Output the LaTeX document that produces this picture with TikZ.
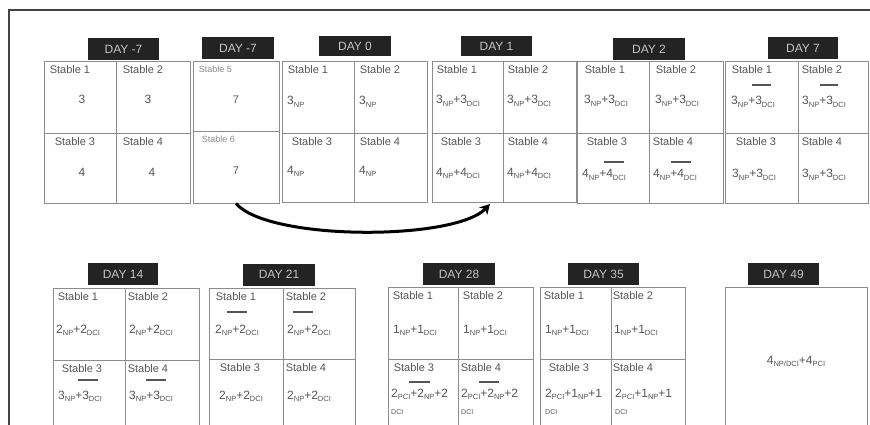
\documentclass[tikz,border=0pt]{standalone}
\usepackage{fontspec}
\setmainfont{Liberation Sans}
\usetikzlibrary{fit,arrows.meta}
\definecolor{gridc}{HTML}{8C8C8C}
\definecolor{txtc}{HTML}{555555}
\definecolor{lighttxt}{HTML}{8A8A8A}
\definecolor{labbg}{HTML}{232323}
\definecolor{labtxt}{HTML}{C4C4C4}
\definecolor{framec}{HTML}{444444}
\newcommand{\sub}[1]{\raisebox{-0.35ex}{\fontsize{7.5}{8}\selectfont #1}}
\newcommand{\mkcell}[5]{%
  \coordinate (#1-p) at (#2,#3);
  \coordinate (#1-q) at (#4,#5);
  \node[cellsty, fit=(#1-p)(#1-q)] (#1) {};}
\newcommand{\lab}[3]{\node[stabsty] (#1-l) at ([xshift=#2pt,yshift=-5pt]#1.north west) {#3};}
\newcommand{\slab}[3]{\node[smallstab] (#1-l) at ([xshift=#2pt,yshift=-5pt]#1.north west) {#3};}
\tikzset{
  cellsty/.style={draw=gridc, line width=0.9pt, inner sep=0pt},
  stabsty/.style={text=txtc, font=\fontsize{11}{13}\selectfont, inner sep=0pt, anchor=north west},
  smallstab/.style={stabsty, text=lighttxt, font=\fontsize{9}{11}\selectfont},
  valsty/.style={text=txtc, font=\fontsize{12}{14}\selectfont, inner sep=0pt, anchor=base west},
  cvalsty/.style={valsty, anchor=base},
  dcisty/.style={text=txtc, font=\fontsize{7}{8}\selectfont, inner sep=0pt, anchor=base west},
  daylab/.style={fill=labbg, text=labtxt, font=\fontsize{12}{14}\selectfont, inner sep=0pt, minimum height=22pt},
  barsty/.style={draw=txtc, line width=1.6pt},
  framesty/.style={draw=framec, line width=1.2pt},
  arrsty/.style={draw=black, line width=3pt, -{Stealth[length=10pt,width=11pt]}}
}
\begin{document}
\begin{tikzpicture}[x=1pt,y=-1pt]
\useasboundingbox (0,0) rectangle (870,425);
% outer frame
\coordinate (fa) at (9,430);
\coordinate (fb) at (9,10);
\coordinate (fc) at (875,10);
\draw[framesty] (fa) -- (fb) -- (fc);

% ---------- Row 1 ----------
% DAY -7 (stables 1-4)
\node[daylab, minimum width=71pt] (lm7a) at (123.5,49.5) {DAY -7};
\mkcell{m7a1}{44}{61}{116}{133}
\mkcell{m7a2}{116}{61}{190}{133}
\mkcell{m7a3}{44}{133}{116}{203}
\mkcell{m7a4}{116}{133}{190}{203}
\lab{m7a1}{6}{Stable 1}\lab{m7a2}{7}{Stable 2}\lab{m7a3}{11}{Stable 3}\lab{m7a4}{7}{Stable 4}
\node[cvalsty] (m7a1-v) at (82,104) {3};
\node[cvalsty] (m7a2-v) at (148,104) {3};
\node[cvalsty] (m7a3-v) at (82,176) {4};
\node[cvalsty] (m7a4-v) at (152,176) {4};

% DAY -7 (stables 5-6)
\node[daylab, minimum width=72pt] (lm7b) at (238,48.5) {DAY -7};
\mkcell{m7b5}{193}{61}{279}{131}
\mkcell{m7b6}{193}{131}{279}{203}
\slab{m7b5}{6}{Stable 5}\slab{m7b6}{9}{Stable 6}
\node[cvalsty, font=\fontsize{11}{13}\selectfont] (m7b5-v) at (236,104) {7};
\node[cvalsty, font=\fontsize{11}{13}\selectfont] (m7b6-v) at (236,175) {7};

% DAY 0
\node[daylab, minimum width=72pt, minimum height=20pt] (ld0) at (355,46) {DAY 0};
\mkcell{d0a}{282}{61}{354}{133}
\mkcell{d0b}{354}{61}{427}{133}
\mkcell{d0c}{282}{133}{354}{202}
\mkcell{d0d}{354}{133}{427}{202}
\lab{d0a}{6}{Stable 1}\lab{d0b}{6}{Stable 2}\lab{d0c}{10}{Stable 3}\lab{d0d}{6}{Stable 4}
\node[valsty] (d0a-v) at (287,105) {3\sub{NP}};
\node[valsty] (d0b-v) at (359,105) {3\sub{NP}};
\node[valsty] (d0c-v) at (287,174) {4\sub{NP}};
\node[valsty] (d0d-v) at (359,174) {4\sub{NP}};

% DAY 1
\node[daylab, minimum width=71pt, minimum height=20pt] (ld1) at (496.5,46) {DAY 1};
\mkcell{d1a}{432}{61}{503}{133}
\mkcell{d1b}{503}{61}{576}{133}
\mkcell{d1c}{432}{133}{503}{202}
\mkcell{d1d}{503}{133}{576}{202}
\lab{d1a}{5}{Stable 1}\lab{d1b}{5}{Stable 2}\lab{d1c}{9}{Stable 3}\lab{d1d}{5}{Stable 4}
\node[valsty] (d1a-v) at (436,104) {3\sub{NP}+3\sub{DCI}};
\node[valsty] (d1b-v) at (507,104) {3\sub{NP}+3\sub{DCI}};
\node[valsty] (d1c-v) at (436,176) {4\sub{NP}+4\sub{DCI}};
\node[valsty] (d1d-v) at (507,176) {4\sub{NP}+4\sub{DCI}};

% DAY 2
\node[daylab, minimum width=72pt] (ld2) at (649,49) {DAY 2};
\mkcell{d2a}{577}{61}{649}{133}
\mkcell{d2b}{649}{61}{723}{133}
\mkcell{d2c}{577}{133}{649}{203}
\mkcell{d2d}{649}{133}{723}{203}
\lab{d2a}{8}{Stable 1}\lab{d2b}{7}{Stable 2}\lab{d2c}{10}{Stable 3}\lab{d2d}{4}{Stable 4}
\node[valsty] (d2a-v) at (584,104) {3\sub{NP}+3\sub{DCI}};
\node[valsty] (d2b-v) at (655,104) {3\sub{NP}+3\sub{DCI}};
\node[valsty] (d2c-v) at (582,178) {4\sub{NP}+4\sub{DCI}};
\node[valsty] (d2d-v) at (653,178) {4\sub{NP}+4\sub{DCI}};
\draw[barsty] (604,162) -- (624,162);
\draw[barsty] (671,162) -- (691,162);

% DAY 7
\node[daylab, minimum width=70pt] (ld7) at (803,48.5) {DAY 7};
\mkcell{d7a}{725}{61}{798}{133}
\mkcell{d7b}{798}{61}{868}{133}
\mkcell{d7c}{725}{133}{798}{203}
\mkcell{d7d}{798}{133}{868}{203}
\lab{d7a}{7}{Stable 1}\lab{d7b}{4}{Stable 2}\lab{d7c}{11}{Stable 3}\lab{d7d}{4}{Stable 4}
\node[valsty] (d7a-v) at (731,105) {3\sub{NP}+3\sub{DCI}};
\node[valsty] (d7b-v) at (802,105) {3\sub{NP}+3\sub{DCI}};
\node[valsty] (d7c-v) at (732,178) {3\sub{NP}+3\sub{DCI}};
\node[valsty] (d7d-v) at (802,178) {3\sub{NP}+3\sub{DCI}};
\draw[barsty] (752,85) -- (771,85);
\draw[barsty] (820,85) -- (838,85);

% arrow from stable 6 to day 1
\coordinate (arrend) at (490,204);
\draw[arrsty] (m7b6.south) .. controls (268,241) and (455,241) .. (arrend);

% ---------- Row 2 ----------
% DAY 14
\node[daylab, minimum width=70pt] (ld14) at (123,274) {DAY 14};
\mkcell{d14a}{53}{288}{125}{360}
\mkcell{d14b}{125}{288}{199}{360}
\mkcell{d14c}{53}{360}{125}{432}
\mkcell{d14d}{125}{360}{199}{432}
\lab{d14a}{5}{Stable 1}\lab{d14b}{3}{Stable 2}\lab{d14c}{9}{Stable 3}\lab{d14d}{3}{Stable 4}
\node[valsty] (d14a-v) at (56,333) {2\sub{NP}+2\sub{DCI}};
\node[valsty] (d14b-v) at (129,333) {2\sub{NP}+2\sub{DCI}};
\node[valsty] (d14c-v) at (58,399) {3\sub{NP}+3\sub{DCI}};
\node[valsty] (d14d-v) at (129,399) {3\sub{NP}+3\sub{DCI}};
\draw[barsty] (78,380) -- (98,380);
\draw[barsty] (146,380) -- (166,380);

% DAY 21
\node[daylab, minimum width=72pt] (ld21) at (279,274.5) {DAY 21};
\mkcell{d21a}{209}{288}{283}{359}
\mkcell{d21b}{283}{288}{355}{359}
\mkcell{d21c}{209}{359}{283}{432}
\mkcell{d21d}{283}{359}{355}{432}
\lab{d21a}{7}{Stable 1}\lab{d21b}{3}{Stable 2}\lab{d21c}{11}{Stable 3}\lab{d21d}{3}{Stable 4}
\node[valsty] (d21a-v) at (215,333) {2\sub{NP}+2\sub{DCI}};
\node[valsty] (d21b-v) at (287,333) {2\sub{NP}+2\sub{DCI}};
\node[valsty] (d21c-v) at (219,399) {2\sub{NP}+2\sub{DCI}};
\node[valsty] (d21d-v) at (287,399) {2\sub{NP}+2\sub{DCI}};
\draw[barsty] (227,312) -- (247,312);
\draw[barsty] (293,312) -- (313,312);

% DAY 28
\node[daylab, minimum width=72pt] (ld28) at (459,274) {DAY 28};
\mkcell{d28a}{388}{287}{458}{359}
\mkcell{d28b}{458}{287}{533}{359}
\mkcell{d28c}{388}{359}{458}{432}
\mkcell{d28d}{458}{359}{533}{432}
\lab{d28a}{5}{Stable 1}\lab{d28b}{5}{Stable 2}\lab{d28c}{6}{Stable 3}\lab{d28d}{3}{Stable 4}
\node[valsty] (d28a-v) at (393,333) {1\sub{NP}+1\sub{DCI}};
\node[valsty] (d28b-v) at (463,333) {1\sub{NP}+1\sub{DCI}};
\node[valsty] (d28c-v) at (391,397) {2\sub{PCI}+2\sub{NP}+2};
\node[valsty] (d28d-v) at (461,397) {2\sub{PCI}+2\sub{NP}+2};
\node[dcisty] (d28c-w) at (391,414) {DCI};
\node[dcisty] (d28d-w) at (461,414) {DCI};
\draw[barsty] (409,382) -- (430,382);
\draw[barsty] (479,382) -- (499,382);

% DAY 35
\node[daylab, minimum width=71pt] (ld35) at (603.5,274) {DAY 35};
\mkcell{d35a}{540}{287}{611}{359}
\mkcell{d35b}{611}{287}{685}{359}
\mkcell{d35c}{540}{359}{611}{432}
\mkcell{d35d}{611}{359}{685}{432}
\lab{d35a}{4}{Stable 1}\lab{d35b}{2}{Stable 2}\lab{d35c}{9}{Stable 3}\lab{d35d}{2}{Stable 4}
\node[valsty] (d35a-v) at (545,333) {1\sub{NP}+1\sub{DCI}};
\node[valsty] (d35b-v) at (614,333) {1\sub{NP}+1\sub{DCI}};
\node[valsty] (d35c-v) at (545,397) {2\sub{PCI}+1\sub{NP}+1};
\node[valsty] (d35d-v) at (615,397) {2\sub{PCI}+1\sub{NP}+1};
\node[dcisty] (d35c-w) at (545,414) {DCI};
\node[dcisty] (d35d-w) at (615,414) {DCI};

% DAY 49
\node[daylab, minimum width=71pt] (ld49) at (783.5,274) {DAY 49};
\mkcell{d49}{725}{287}{867}{432}
\node[cvalsty] (d49-v) at (796,364) {4\sub{NP/DCI}+4\sub{PCI}};
\end{tikzpicture}
\end{document}
